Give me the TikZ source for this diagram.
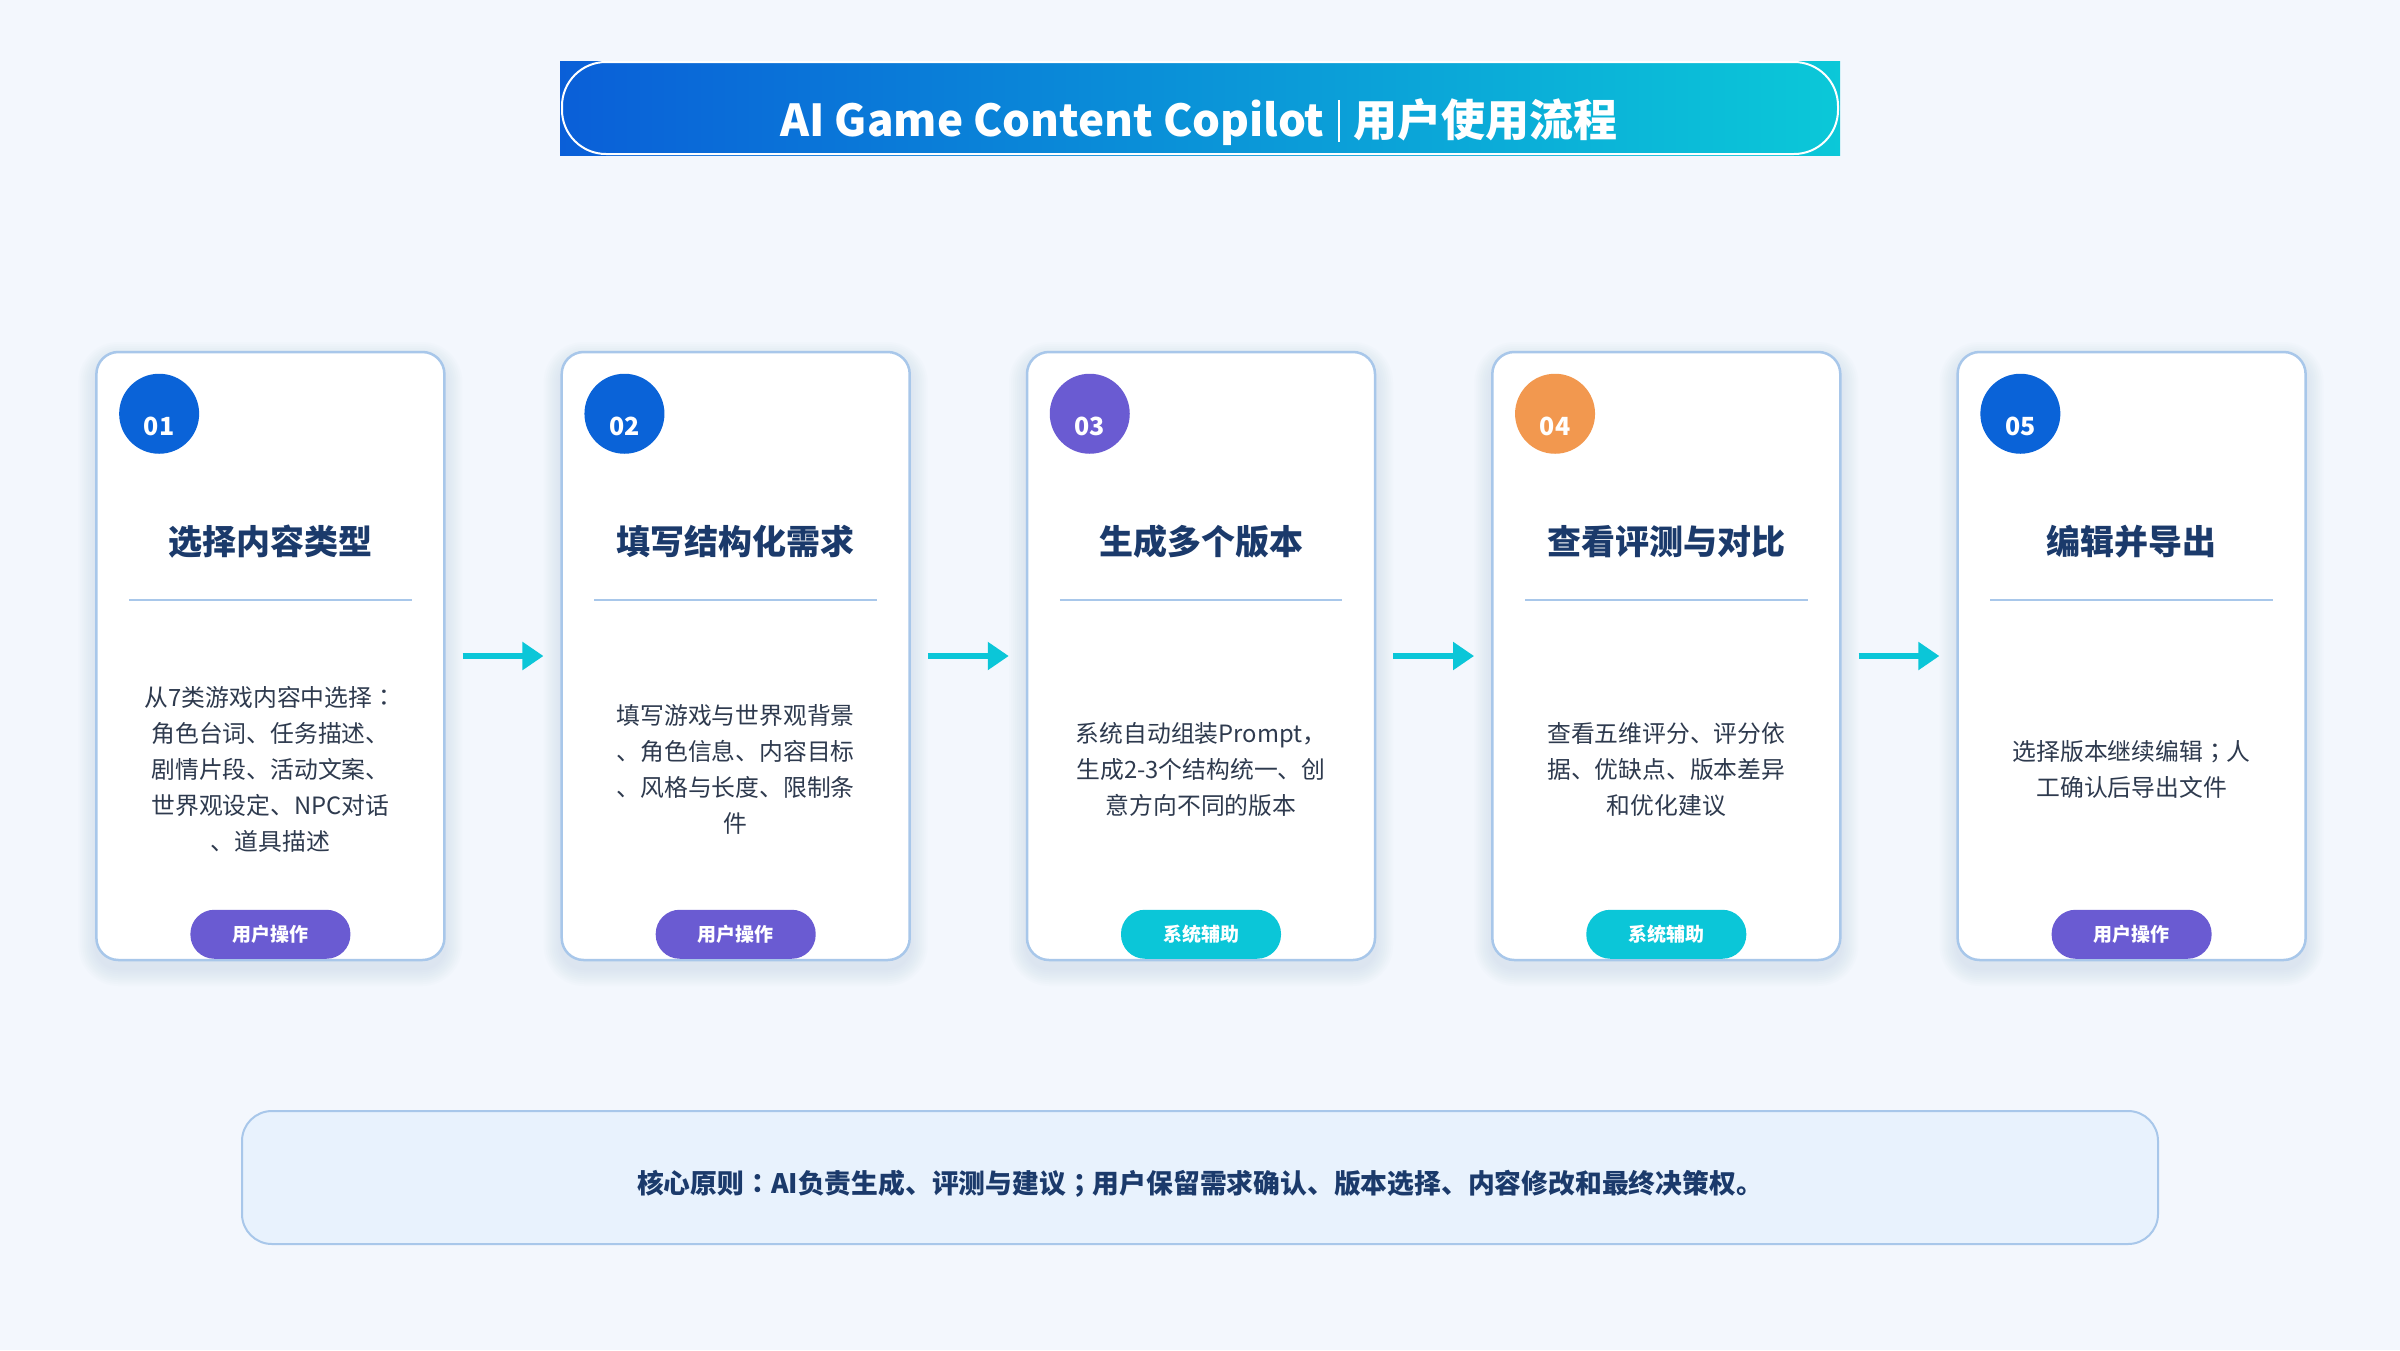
\documentclass[tikz,border=0pt]{standalone}
\usepackage{fontspec}
\setmainfont{Noto Sans CJK SC}
\newfontfamily\jpf{Noto Sans CJK JP}
\usetikzlibrary{calc,arrows.meta}
\definecolor{bgc}{HTML}{F3F7FD}
\definecolor{cardborder}{HTML}{A8C7EA}
\definecolor{navy}{HTML}{1B3A6B}
\definecolor{desctext}{HTML}{2E3A4E}
\definecolor{bluebadge}{HTML}{0A63D8}
\definecolor{purplebadge}{HTML}{6A5BD2}
\definecolor{orangebadge}{HTML}{F2984F}
\definecolor{cyanc}{HTML}{0BC6D8}
\definecolor{gradleft}{HTML}{0A5FD8}
\definecolor{gradright}{HTML}{0BC8D8}
\definecolor{boxfill}{HTML}{E8F2FD}
\definecolor{shadowc}{HTML}{8FA5CC}
\begin{document}
\begin{tikzpicture}[x=1pt,y=-1pt,
  card/.style={rectangle, rounded corners=22pt, draw=cardborder, line width=2.5pt,
    fill=white, minimum width=348pt, minimum height=608pt, inner sep=0pt},
  badge/.style={circle, minimum size=80pt, inner sep=0pt},
  badgenum/.style={text=white, font=\fontsize{25}{30}\selectfont\bfseries, inner sep=0pt},
  cardtitle/.style={text=navy, font=\fontsize{34}{40}\selectfont\bfseries, inner sep=0pt},
  divider/.style={draw=cardborder, line width=2.5pt},
  desc/.style={text=desctext, font=\fontsize{23.8}{36}\selectfont, align=center, inner sep=0pt},
  pill/.style={rectangle, rounded corners=24pt, minimum width=160pt, minimum height=49pt,
    text=white, font=\fontsize{19}{22}\selectfont\bfseries, inner sep=0pt},
  flowarrow/.style={draw=cyanc, line width=6.5pt, -{Triangle[length=21pt,width=27pt]},
    shorten <=17pt, shorten >=17pt},
  principle/.style={rectangle, rounded corners=30pt, draw=cardborder, line width=2pt,
    fill=boxfill, minimum width=1916pt, minimum height=133pt, inner sep=0pt},
  principletext/.style={text=navy, font=\fontsize{26.8}{30}\selectfont\bfseries, inner sep=0pt}
]
\useasboundingbox (0,0) rectangle (2400,1350);
\fill[bgc] (0,0) rectangle (2400,1350);

% header
\shade[left color=gradleft, right color=gradright] (560,61) rectangle (1840,155);
\draw[white, line width=2pt, rounded corners=44pt] (562,62) rectangle (1838,154);
\node[text=white, font=\fontsize{44}{50}\selectfont\bfseries, anchor=base, inner sep=0pt]
  (title) at (1199,136) {AI Game Content Copilot\hspace{14pt}\rule[-6pt]{1.3pt}{42pt}\hspace{14pt}用户使用流程};

% shadows
\foreach \cx in {270.4,735.7,1201,1666.3,2131.6}{
  \foreach \k in {1,...,9}{
    \fill[shadowc, opacity=0.022, rounded corners={22pt+2*\k pt}]
      ($(\cx,656)+(-174-2*\k,-304-2*\k+8)$) rectangle ($(\cx,656)+(174+2*\k,304+2*\k+8)$);
  }
}

% cards
\foreach \i/\cx/\bc/\ttl/\dsc/\pc/\ptxt in {
  1/270.4/bluebadge/{选择内容类型}/{从7类游戏内容中选择{\jpf ：}\\角色台词、任务描述、\\剧情片段、活动文案、\\世界观设定、NPC对话\\、道具描述}/purplebadge/{用户操作},
  2/735.7/bluebadge/{填写结构化需求}/{填写游戏与世界观背景\\、角色信息、内容目标\\、风格与长度、限制条\\件}/purplebadge/{用户操作},
  3/1201/purplebadge/{生成多个版本}/{系统自动组装Prompt，\\生成2-3个结构统一、创\\意方向不同的版本}/cyanc/{系统辅助},
  4/1666.3/orangebadge/{查看评测与对比}/{查看五维评分、评分依\\据、优缺点、版本差异\\和优化建议}/cyanc/{系统辅助},
  5/2131.6/bluebadge/{编辑并导出}/{选择版本继续编辑{\jpf ；}人\\工确认后导出文件}/purplebadge/{用户操作}}{
  \node[card] (c\i) at (\cx,656) {};
  \node[badge, fill=\bc] (n\i) at ($(c\i.north west)+(64,63)$) {};
  \node[badgenum] (nt\i) at ($(n\i.center)+(0,13)$) {0\i};
  \node[cardtitle] (t\i) at ($(c\i.north)+(0,191)$) {\ttl};
  \draw[divider] ($(c\i.north west)+(34,249)$) -- ($(c\i.north east)+(-34,249)$);
  \node[desc] (d\i) at ($(c\i.north)+(0,419)$) {\dsc};
  \node[pill, fill=\pc] (p\i) at ($(c\i.south)+(0,-27)$) {\ptxt};
}

% arrows
\foreach \a/\b in {1/2,2/3,3/4,4/5}{
  \draw[flowarrow] (c\a.east) -- (c\b.west);
}

% principle box
\node[principle] (core) at (1200,1177.5) {};
\node[principletext] (coretext) at (1200,1184) {核心原则{\jpf ：}AI负责生成、评测与建议{\jpf ；}用户保留需求确认、版本选择、内容修改和最终决策权。};
\end{tikzpicture}
\end{document}
